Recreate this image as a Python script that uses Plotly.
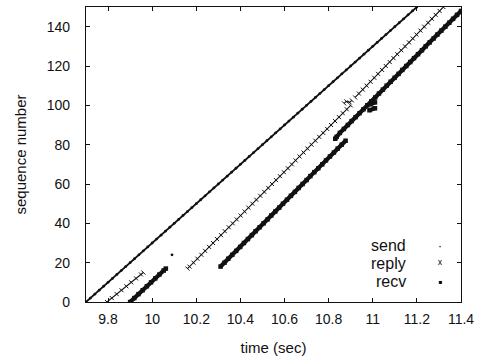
import plotly.graph_objects as go

# ---- data (time in sec, sequence number) ----
send_seq = [0, 2, 4, 6, 8, 10, 12, 14, 16, 18, 20, 22, 24, 26, 28, 30, 32, 34, 36, 38,
            40, 42, 44, 46, 48, 50, 52, 54, 56, 58, 60, 62, 64, 66, 68, 70, 72, 74, 76, 78,
            80, 82, 84, 86, 88, 90, 92, 94, 96, 98, 100, 102, 104, 106, 108, 110, 112, 114,
            116, 118, 120, 122, 124, 126, 128, 130, 132, 134, 136, 138, 140, 142, 144, 146,
            148, 150, None, 24]
send_t = [9.70, 9.72, 9.74, 9.76, 9.78, 9.80, 9.82, 9.84, 9.86, 9.88, 9.90, 9.92, 9.94,
          9.96, 9.98, 10.00, 10.02, 10.04, 10.06, 10.08, 10.10, 10.12, 10.14, 10.16, 10.18,
          10.20, 10.22, 10.24, 10.26, 10.28, 10.30, 10.32, 10.34, 10.36, 10.38, 10.40, 10.42,
          10.44, 10.46, 10.48, 10.50, 10.52, 10.54, 10.56, 10.58, 10.60, 10.62, 10.64, 10.66,
          10.68, 10.70, 10.72, 10.74, 10.76, 10.78, 10.80, 10.82, 10.84, 10.86, 10.88, 10.90,
          10.92, 10.94, 10.96, 10.98, 11.00, 11.02, 11.04, 11.06, 11.08, 11.10, 11.12, 11.14,
          11.16, 11.18, 11.20, None, 10.09]

reply_seq = [0, 2, 4, 6, 8, 10, 12, 14, 15, None,
             17, 18, 20, 22, 24, 26, 28, 30, 32, 34, 36, 38, 40, 42, 44, 46, 48, 50, 52, 54,
             56, 58, 60, 62, 64, 66, 68, 70, 72, 74, 76, 78, 80, 82, 84, 86, 88, 90, 92, 94,
             96, 98, 100, None, 101, 102, 101.5, 102.5, None,
             104, 106, 108, 110, 112, 114, 116, 118, 120, 122, 124, 126, 128, 130, 132, 134,
             136, 138, 140, 142, 144, 146, 148, 150]
reply_t = [9.795, 9.817, 9.839, 9.861, 9.883, 9.905, 9.927, 9.949, 9.960, None,
           10.160, 10.169, 10.187, 10.205, 10.223, 10.240, 10.258, 10.276, 10.294, 10.312,
           10.329, 10.347, 10.365, 10.383, 10.401, 10.419, 10.436, 10.454, 10.472, 10.490,
           10.508, 10.526, 10.543, 10.561, 10.579, 10.597, 10.615, 10.633, 10.650, 10.668,
           10.686, 10.704, 10.722, 10.740, 10.757, 10.775, 10.793, 10.811, 10.829, 10.847,
           10.864, 10.882, 10.900, None, 10.870, 10.880, 10.895, 10.905, None,
           10.920, 10.937, 10.955, 10.972, 10.990, 11.007, 11.024, 11.042, 11.059, 11.077,
           11.094, 11.111, 11.129, 11.146, 11.164, 11.181, 11.198, 11.216, 11.233, 11.251,
           11.268, 11.285, 11.303, 11.320]

recv_seq = [0, 2, 4, 6, 8, 10, 12, 14, 16, 17, None,
            18, 20, 22, 24, 26, 28, 30, 32, 34, 36, 38, 40, 42, 44, 46, 48, 50, 52, 54, 56,
            58, 60, 62, 64, 66, 68, 70, 72, 74, 76, 78, 80, 82, None,
            83, 84, 86, 88, 90, 92, 94, 96, 98, 100, 102, 104, 106, 108, 110, 112, 114, 116, 118,
            120, 122, 124, 126, 128, 130, 132, 134, 136, 138, 140, 142, 144, 146, 148, 150,
            None, 97.5, 98.5, 99.5, None, 100.5, 101.5, 102]
recv_t = [9.900, 9.919, 9.938, 9.957, 9.976, 9.995, 10.014, 10.033, 10.052, 10.062, None,
          10.310, 10.328, 10.345, 10.363, 10.381, 10.399, 10.416, 10.434, 10.452, 10.469,
          10.487, 10.505, 10.523, 10.540, 10.558, 10.576, 10.593, 10.611, 10.629, 10.647,
          10.664, 10.682, 10.700, 10.717, 10.735, 10.753, 10.771, 10.788, 10.806, 10.824,
          10.841, 10.859, 10.877, None,
          10.830, 10.836, 10.851, 10.869, 10.887, 10.904, 10.922, 10.940, 10.958, 10.975,
          10.993, 11.011, 11.028, 11.046, 11.063, 11.081, 11.099, 11.117, 11.134, 11.152,
          11.170, 11.187, 11.205, 11.223, 11.240, 11.258, 11.276, 11.293, 11.311, 11.329,
          11.347, 11.364, 11.382, 11.400,
          None, 10.960, 10.985, 11.010, None, 10.970, 10.990, 11.010]

x_ticks = [9.8, 10, 10.2, 10.4, 10.6, 10.8, 11, 11.2, 11.4]
x_tick_labels = ["9.8", "10", "10.2", "10.4", "10.6", "10.8", "11", "11.2", "11.4"]
y_ticks = [0, 20, 40, 60, 80, 100, 120, 140]
legend_labels = ["send", "reply", "recv"]

FONT = "Liberation Sans, Arial, Helvetica, sans-serif"
INK = "#111111"

fig = go.Figure()
fig.add_trace(go.Scatter(x=send_t, y=send_seq, mode="lines+markers", name="send",
                         line=dict(color=INK, width=1.8),
                         marker=dict(symbol="circle", size=2.8, color=INK),
                         showlegend=False))
fig.add_trace(go.Scatter(x=reply_t, y=reply_seq, mode="lines+markers", name="reply",
                         line=dict(color="#111111", width=1.1),
                         marker=dict(symbol="line-nw", size=4,
                                     line=dict(color="#111111", width=1.0)),
                         showlegend=False))
fig.add_trace(go.Scatter(x=recv_t, y=recv_seq, mode="lines+markers", name="recv",
                         line=dict(color=INK, width=4.2),
                         marker=dict(symbol="square", size=4.5, color=INK),
                         showlegend=False))

# gnuplot-style key (text left, sample right)
key_y = [0.19, 0.129, 0.068]
key_glyph = ["·", "ˣ", "▪"]
for lab, yy, g in zip(legend_labels, key_y, key_glyph):
    fig.add_annotation(x=0.859, y=yy, xref="paper", yref="paper", text=lab,
                       showarrow=False, xanchor="right", yanchor="middle",
                       font=dict(family=FONT, size=16, color=INK))
    fig.add_annotation(x=0.944, y=yy, xref="paper", yref="paper", text=g,
                       showarrow=False, xanchor="center", yanchor="middle",
                       font=dict(family=FONT, size=12, color="#000000"))

axis_common = dict(showline=True, linecolor=INK, linewidth=1.2, mirror="ticks",
                   ticks="inside", ticklen=4, tickcolor=INK, showgrid=False,
                   zeroline=False, automargin=False,
                   tickfont=dict(family=FONT, size=14, color=INK))

fig.update_xaxes(range=[9.7, 11.4], tickvals=x_ticks, ticktext=x_tick_labels,
                 ticklabelstandoff=4,
                 title=dict(text="time (sec)", font=dict(family=FONT, size=15, color=INK),
                            standoff=16),
                 **axis_common)
fig.update_yaxes(range=[0, 150], tickvals=y_ticks, ticklabelstandoff=12,
                 title=dict(text="sequence number", font=dict(family=FONT, size=15, color=INK),
                            standoff=16),
                 **axis_common)

fig.update_layout(width=481, height=361, plot_bgcolor="white", paper_bgcolor="white",
                  margin=dict(l=86, r=20, t=7, b=59), font=dict(family=FONT, color=INK))

fig.write_html("out.html", config={"displayModeBar": False},
               post_script="document.body.style.margin='0';")
